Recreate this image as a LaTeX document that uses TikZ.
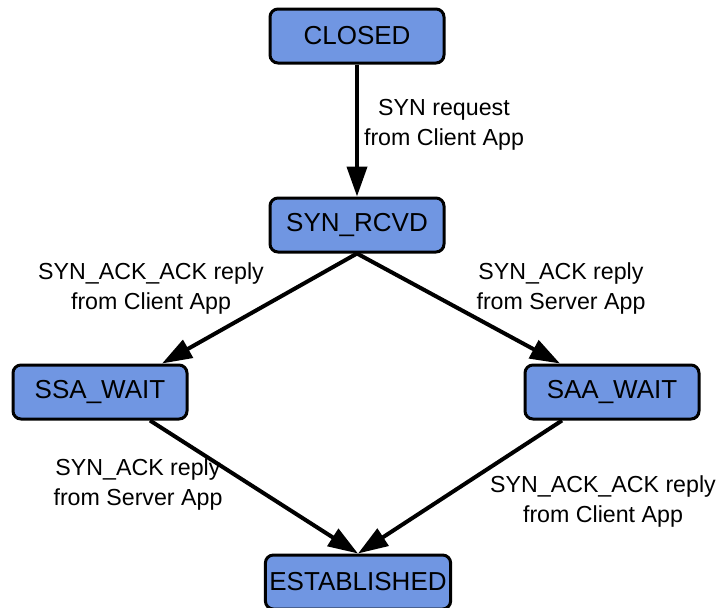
\documentclass[tikz,border=0pt]{standalone}
\usepackage{fontspec}
\setmainfont{Liberation Sans}
\usetikzlibrary{arrows.meta}
\definecolor{stateblue}{RGB}{112,150,226}

\begin{document}
\begin{tikzpicture}[x=0.5pt,y=-0.5pt,
    state/.style={draw=black,line width=1.5pt,rounded corners=4pt,fill=stateblue,inner xsep=2pt,
                  minimum width=87pt,minimum height=27pt,font=\fontsize{13pt}{16pt}\selectfont},
    trans/.style={line width=2pt,-{Triangle[length=15pt,width=10pt]}},
    lbl/.style={align=center,font=\fontsize{11.6pt}{15pt}\selectfont}]

    \useasboundingbox (0,0) rectangle (716,607);

    \node[state] (closed) at (357,36){CLOSED};
    \node[state] (rcvd) at (357,225){SYN\_RCVD};
    \node[state] (ssa) at (100,392){SSA\_WAIT};
    \node[state] (saa) at (612,392){SAA\_WAIT};
    \node[state] (est) at (358,582){ESTABLISHED};

    \draw[trans] (closed) -- (rcvd);
    \draw[trans] (rcvd.south) -- ([xshift=31pt]ssa.north);
    \draw[trans] (rcvd.south) -- ([xshift=-26pt]saa.north);
    \draw[trans] ([xshift=25pt]ssa.south) -- (est.north);
    \draw[trans] ([xshift=-25pt]saa.south) -- (est.north);

    \node[lbl] (l1) at (444,125){SYN request\\from Client App};
    \node[lbl] (l2) at (151,288){SYN\_ACK\_ACK reply\\from Client App};
    \node[lbl] (l3) at (561,288){SYN\_ACK reply\\from Server App};
    \node[lbl] (l4) at (138,484){SYN\_ACK reply\\from Server App};
    \node[lbl] (l5) at (603,501){SYN\_ACK\_ACK reply\\from Client App};

\end{tikzpicture}
\end{document}
